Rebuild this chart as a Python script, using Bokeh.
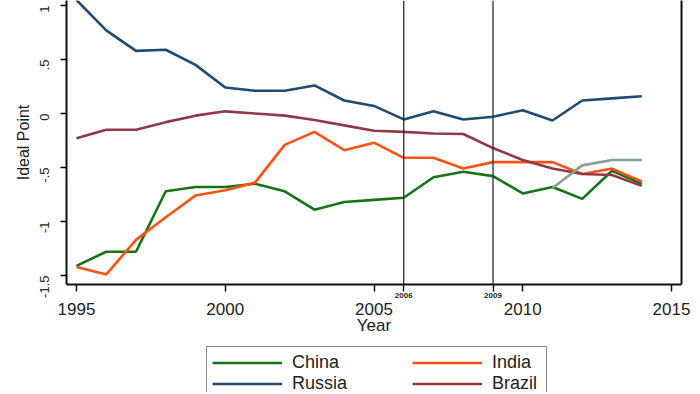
import math
from bokeh.plotting import figure
from bokeh.layouts import column
from bokeh.models import (Legend, LegendItem, Span, LinearAxis,
                          FixedTicker, Range1d)
from bokeh.embed import file_html
from bokeh.resources import INLINE

# ---- data ----
years = list(range(1995, 2015))
china = [-1.41, -1.28, -1.28, -0.72, -0.68, -0.68, -0.65, -0.72, -0.89, -0.82,
         -0.80, -0.78, -0.59, -0.54, -0.58, -0.74, -0.68, -0.79, -0.53, -0.65]
india = [-1.42, -1.49, -1.17, -0.96, -0.76, -0.71, -0.64, -0.29, -0.17, -0.34,
         -0.27, -0.41, -0.41, -0.51, -0.45, -0.45, -0.45, -0.56, -0.51, -0.63]
russia = [1.05, 0.77, 0.58, 0.59, 0.45, 0.24, 0.21, 0.21, 0.26, 0.12,
          0.07, -0.055, 0.02, -0.055, -0.03, 0.03, -0.065, 0.12, 0.14, 0.16]
brazil = [-0.23, -0.15, -0.15, -0.08, -0.02, 0.02, 0.0, -0.02, -0.06, -0.11,
          -0.16, -0.17, -0.185, -0.19, -0.32, -0.43, -0.51, -0.56, -0.57, -0.67]
other_years = [2011, 2012, 2013, 2014]
other = [-0.69, -0.48, -0.43, -0.43]

event_years = [2006, 2009]
event_labels = ["2006", "2009"]
x_ticks = [1995, 2000, 2005, 2010, 2015]
x_tick_labels = ["1995", "2000", "2005", "2010", "2015"]
y_ticks = [-1.5, -1.0, -0.5, 0.0, 0.5, 1.0]
y_tick_labels = ["-1.5", "-1", "-.5", "0", ".5", "1"]

names = ["China", "India", "Russia", "Brazil"]
colors = ["#177317", "#ff5214", "#1f4a73", "#8f3a44"]
other_color = "#86a094"

FONT = "Liberation Sans"
TXT = "#222222"
AX = "#111111"
LW = 2.6

p = figure(width=690, height=338, output_backend="svg", toolbar_location=None,
           x_range=Range1d(1994.664, 2015.336), y_range=Range1d(-1.583, 1.046),
           x_axis_location=None,
           min_border_left=66, min_border_right=9, min_border_top=0,
           min_border_bottom=54)
p.background_fill_color = "white"
p.border_fill_color = "white"
p.outline_line_color = None
p.xgrid.visible = False
p.ygrid.visible = False

series = [china, india, russia, brazil]
for vals, col in zip(series, colors):
    p.line(years, vals, line_color=col, line_width=LW)
p.line(other_years, other, line_color=other_color, line_width=LW)

for yr in event_years:
    p.add_layout(Span(location=yr, dimension="height", line_color="#2a2a2a",
                      line_width=1.3))

# x axis nearest the frame: axis line, tick marks, small event-year labels
all_ticks = sorted(x_ticks + event_years)
small_over = {t: "" for t in x_ticks}
small_over.update({t: s for t, s in zip(event_years, event_labels)})
ax_small = LinearAxis(ticker=FixedTicker(ticks=all_ticks),
                      major_label_overrides=small_over,
                      major_label_text_font=FONT,
                      major_label_text_font_size="8px",
                      major_label_text_font_style="bold",
                      major_label_text_color=TXT,
                      major_label_standoff=1,
                      axis_line_width=2, axis_line_color=AX,
                      major_tick_out=7, major_tick_in=0,
                      major_tick_line_width=1.5, major_tick_line_color=AX,
                      minor_tick_line_color=None)
# main year labels and title
ax_main = LinearAxis(ticker=FixedTicker(ticks=x_ticks),
                     major_label_overrides={t: s for t, s in zip(x_ticks, x_tick_labels)},
                     axis_label="Year",
                     axis_label_text_font=FONT,
                     axis_label_text_font_size="17px",
                     axis_label_text_font_style="normal",
                     axis_label_text_color=TXT,
                     axis_label_standoff=-2,
                     major_label_text_font=FONT,
                     major_label_text_font_size="17px",
                     major_label_text_color=TXT,
                     major_label_standoff=-4,
                     axis_line_color=None, major_tick_line_color=None,
                     minor_tick_line_color=None)
p.below = [ax_small, ax_main]

# y axis
ya = p.yaxis[0]
ya.ticker = FixedTicker(ticks=y_ticks)
ya.major_label_overrides = {t: s for t, s in zip(y_ticks, y_tick_labels)}
ya.major_label_orientation = math.pi / 2
ya.axis_label = "Ideal Point"
ya.axis_label_text_font = FONT
ya.axis_label_text_font_size = "16px"
ya.axis_label_text_font_style = "normal"
ya.axis_label_text_color = TXT
ya.axis_label_standoff = 1
ya.major_label_text_font = FONT
ya.major_label_text_font_size = "13px"
ya.major_label_text_color = TXT
ya.major_label_standoff = 16
ya.axis_line_width = 2
ya.axis_line_color = AX
ya.major_tick_out = 6
ya.major_tick_in = 0
ya.major_tick_line_width = 1.5
ya.minor_tick_line_color = None

# right frame line
ra = LinearAxis(ticker=FixedTicker(ticks=[]), major_label_text_font_size="0px",
                major_tick_line_color=None, minor_tick_line_color=None,
                axis_line_width=2, axis_line_color=AX)
p.add_layout(ra, "right")

# ---- legend strip below the plot ----
p2 = figure(width=690, height=54, output_backend="svg", toolbar_location=None,
            x_range=Range1d(0, 690), y_range=Range1d(0, 54),
            x_axis_location=None, y_axis_location=None, min_border=0)
p2.background_fill_color = "white"
p2.border_fill_color = "white"
p2.outline_line_color = None
p2.xgrid.visible = False
p2.ygrid.visible = False

# legend swatches use the same series (they fall outside this strip's range)
proxies = {}
for name, vals, col in zip(names, series, colors):
    proxies[name] = p2.line(years, vals, line_color=col, line_width=LW)

common = dict(orientation="vertical", padding=5, margin=0, glyph_width=70,
              glyph_height=21, label_height=21, label_standoff=10, spacing=0,
              label_text_font=FONT, label_text_font_size="18px",
              label_text_color=TXT)
leg1 = Legend(items=[LegendItem(label="China", renderers=[proxies["China"]]),
                     LegendItem(label="Russia", renderers=[proxies["Russia"]])],
              location=(140, -8), border_line_color=AX,
              border_line_width=1.2, background_fill_color="white",
              background_fill_alpha=1.0, label_width=249, **common)
leg2 = Legend(items=[LegendItem(label="India", renderers=[proxies["India"]]),
                     LegendItem(label="Brazil", renderers=[proxies["Brazil"]])],
              location=(346, -2), border_line_color=None,
              background_fill_alpha=0.0, label_width=40, **common)
p2.add_layout(leg1, "center")
p2.add_layout(leg2, "center")

layout = column(p, p2, spacing=0)
open("out.html", "w").write(file_html(layout, INLINE))
